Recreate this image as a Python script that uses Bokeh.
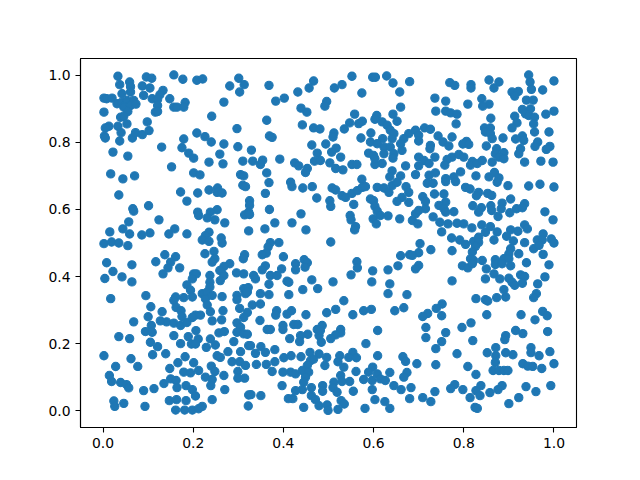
from bokeh.plotting import figure
from bokeh.models import Range1d, FixedTicker, ColumnDataSource
from bokeh.embed import file_html
from bokeh.resources import INLINE

ticks = [0.0, 0.2, 0.4, 0.6, 0.8, 1.0]
tick_labels = {0.0: "0.0", 0.2: "0.2", 0.4: "0.4", 0.6: "0.6", 0.8: "0.8", 1.0: "1.0"}

upper_left = [(.033,.997),(.037,.972),(.059,.980),(.061,.966),(.096,.995),(.108,.991),(.087,.968),(.104,.962),(.157,1.001),(.177,.988),(.208,.985),(.221,.989),(.301,.991),(.313,.972),(.281,.968),(.303,.950),(.002,.932),(.008,.930),(.020,.932),(.042,.945),(.061,.950),(.090,.940),(.133,.955),(.126,.942),(.109,.930),(.121,.928),(.148,.930),(.182,.919),(.268,.920),(.031,.915),(.042,.920),(.053,.925),(.068,.925),(.046,.905),(.061,.910),(.073,.914),(.055,.892),(.002,.890),(.121,.910),(.116,.890),(.121,.892),(.157,.905),(.164,.905),(.179,.905),(.241,.878),(.039,.875),(.046,.878),(.098,.861),(.053,.855),(.013,.848),(.005,.843),(.033,.848),(.040,.829),(.297,.841),(.003,.819),(.005,.813),(.037,.804),(.065,.813),(.072,.829),(.087,.823),(.102,.835),(.179,.810),(.208,.828),(.226,.817),(.240,.801),(.268,.795),(.299,.787),(.130,.786),(.175,.784),(.190,.768),(.201,.753),(.022,.771),(.055,.759),(.259,.765),(.235,.741),(.266,.736),(.310,.744),(.152,.727),(.017,.706),(.044,.691),(.070,.700),(.201,.709),(.215,.703),(.305,.704),(.312,.700)]

upper_mid = [(.368,.970),(.467,.983),(.457,.962),(.432,.950),(.402,.932),(.383,.923),(.513,.962),(.530,.972),(.552,.997),(.598,.994),(.604,.994),(.629,.998),(.643,.977),(.680,.981),(.658,.950),(.574,.947),(.496,.922),(.492,.908),(.439,.902),(.452,.890),(.660,.905),(.558,.884),(.607,.880),(.643,.884),(.363,.866),(.603,.869),(.652,.863),(.547,.858),(.575,.863),(.567,.856),(.619,.861),(.630,.851),(.442,.852),(.467,.843),(.481,.840),(.535,.840),(.512,.828),(.510,.816),(.594,.828),(.637,.836),(.645,.826),(.369,.819),(.375,.815),(.572,.813),(.678,.826),(.667,.811),(.620,.811),(.593,.801),(.608,.796),(.641,.811),(.660,.796),(.463,.792),(.494,.795),(.329,.777),(.517,.783),(.507,.771),(.475,.768),(.527,.756),(.589,.768),(.623,.786),(.637,.786),(.663,.776),(.623,.766),(.645,.766),(.600,.761),(.643,.753),(.354,.747),(.332,.744),(.392,.750),(.469,.744),(.482,.746),(.349,.734),(.425,.739),(.434,.730),(.453,.722),(.449,.710),(.503,.739),(.516,.722),(.532,.718),(.552,.734),(.563,.734),(.603,.734),(.619,.737),(.603,.751),(.671,.730),(.641,.715),(.363,.709),(.636,.697),(.660,.700),(.574,.690)]

upper_right = [(.769,.978),(.780,.970),(.816,.972),(.816,.962),(.856,.986),(.878,.980),(.867,.962),(.944,1.001),(.947,.980),(.950,.958),(.975,.956),(1.000,.983),(.907,.950),(.921,.952),(.913,.938),(.736,.932),(.760,.923),(.809,.914),(.840,.930),(.856,.914),(.842,.908),(.939,.926),(.954,.926),(.930,.898),(.948,.900),(.937,.885),(.944,.880),(.738,.893),(.760,.893),(.771,.888),(.785,.884),(.982,.884),(1.000,.893),(.957,.875),(.913,.878),(.860,.872),(.783,.855),(.918,.858),(.955,.855),(.907,.843),(.846,.843),(.859,.843),(.848,.831),(.859,.826),(.957,.831),(.989,.831),(.693,.836),(.713,.843),(.726,.839),(.700,.821),(.743,.819),(.774,.816),(.863,.811),(.887,.813),(.930,.819),(.915,.810),(.933,.806),(.700,.804),(.754,.801),(.767,.789),(.806,.803),(.798,.795),(.811,.794),(.726,.791),(.725,.781),(.964,.801),(.958,.788),(.991,.788),(.983,.779),(.850,.789),(.873,.781),(.889,.769),(.870,.766),(.926,.781),(.922,.766),(.736,.756),(.700,.756),(.712,.746),(.723,.737),(.700,.730),(.774,.756),(.789,.764),(.800,.756),(.763,.749),(.758,.732),(.819,.743),(.815,.732),(.830,.737),(.841,.746),(.863,.741),(.878,.756),(.889,.751),(.935,.741),(.971,.744),(.998,.741),(.693,.704),(.723,.702),(.737,.709),(.793,.712),(.827,.700),(.760,.692),(.778,.697),(.856,.697),(.868,.710),(.878,.694)]

middle_left = [(.035,.643),(.172,.652),(.186,.625),(.210,.649),(.235,.658),(.254,.664),(.253,.651),(.264,.649),(.310,.672),(.316,.668),(.066,.602),(.068,.595),(.101,.611),(.210,.592),(.212,.582),(.253,.599),(.238,.592),(.231,.575),(.248,.569),(.270,.560),(.314,.584),(.124,.569),(.057,.563),(.044,.542),(.059,.527),(.015,.533),(.159,.542),(.146,.527),(.104,.530),(.086,.524),(.186,.527),(.235,.532),(.227,.522),(.220,.509),(.235,.505),(.262,.515),(.264,.500),(.002,.498),(.019,.503),(.035,.500),(.055,.492),(.137,.465),(.161,.459),(.117,.444),(.226,.468),(.246,.475),(.248,.453),(.242,.443),(.314,.465),(.311,.453),(.008,.441),(.064,.435),(.150,.443),(.144,.426),(.170,.426),(.022,.415),(.133,.408),(.042,.399),(.004,.394),(.064,.384),(.201,.408),(.207,.408),(.198,.393),(.281,.438),(.268,.430),(.259,.418),(.268,.403),(.260,.388),(.237,.403),(.296,.411),(.312,.408),(.186,.375),(.237,.383),(.237,.369),(.017,.334),(.095,.343),(.161,.339),(.157,.329),(.179,.337),(.194,.359),(.198,.339),(.220,.349),(.231,.354),(.227,.334),(.242,.344),(.264,.340),(.297,.344),(.297,.331),(.312,.364),(.316,.349)]

middle_mid = [(.368,.680),(.360,.648),(.416,.681),(.419,.668),(.443,.664),(.464,.668),(.474,.634),(.508,.664),(.516,.658),(.530,.641),(.538,.636),(.552,.648),(.564,.656),(.575,.666),(.582,.668),(.608,.666),(.623,.664),(.634,.651),(.641,.671),(.652,.681),(.672,.668),(.678,.651),(.663,.636),(.652,.624),(.678,.621),(.503,.626),(.505,.609),(.556,.615),(.593,.631),(.600,.626),(.603,.609),(.608,.595),(.615,.582),(.632,.581),(.599,.572),(.606,.557),(.658,.572),(.325,.626),(.325,.612),(.323,.592),(.325,.585),(.369,.600),(.439,.587),(.381,.560),(.419,.560),(.359,.542),(.450,.539),(.323,.536),(.548,.582),(.550,.569),(.560,.549),(.558,.539),(.505,.503),(.371,.501),(.390,.501),(.366,.488),(.362,.470),(.353,.465),(.400,.459),(.360,.432),(.353,.420),(.396,.423),(.427,.438),(.427,.420),(.446,.450),(.453,.441),(.448,.428),(.563,.444),(.564,.426),(.550,.405),(.598,.417),(.632,.420),(.654,.432),(.660,.462),(.680,.465),(.334,.403),(.338,.393),(.371,.403),(.386,.403),(.368,.377),(.408,.386),(.412,.383),(.463,.390),(.510,.384),(.596,.384),(.636,.378),(.443,.361),(.476,.364),(.322,.367),(.320,.354),(.349,.349),(.368,.346),(.412,.346),(.632,.349),(.674,.346),(.534,.328)]

middle_right = [(.719,.678),(.732,.678),(.760,.683),(.782,.683),(.804,.666),(.814,.661),(.833,.651),(.828,.641),(.853,.648),(.862,.642),(.874,.681),(.898,.671),(.944,.670),(.969,.675),(1.000,.667),(.709,.638),(.715,.624),(.735,.646),(.756,.646),(.760,.622),(.745,.612),(.756,.602),(.760,.592),(.778,.593),(.715,.602),(.693,.587),(.700,.597),(.686,.567),(.698,.557),(.732,.578),(.747,.562),(.765,.557),(.785,.559),(.800,.557),(.818,.545),(.751,.533),(.820,.611),(.839,.605),(.833,.592),(.860,.611),(.862,.597),(.885,.619),(.883,.602),(.876,.579),(.904,.631),(.902,.590),(.917,.602),(.935,.617),(.930,.605),(.980,.593),(.998,.569),(.840,.554),(.859,.549),(.848,.532),(.874,.533),(.904,.539),(.920,.535),(.935,.554),(.941,.542),(.895,.520),(.867,.509),(.910,.506),(.773,.515),(.791,.509),(.804,.496),(.822,.505),(.833,.517),(.833,.502),(.826,.490),(.935,.501),(.976,.527),(.963,.509),(.974,.509),(.994,.512),(1.000,.500),(.955,.483),(.967,.493),(.976,.466),(.703,.498),(.700,.471),(.686,.463),(.727,.480),(.774,.477),(.819,.473),(.904,.483),(.900,.468),(.922,.468),(.815,.453),(.822,.448),(.841,.448),(.870,.450),(.889,.453),(.900,.453),(.870,.436),(.885,.438),(.939,.441),(.989,.435),(.797,.432),(.809,.426),(.819,.438),(.700,.433),(.693,.423),(.850,.423),(.904,.432),(.867,.408),(.848,.393),(.880,.393),(.900,.395),(.926,.405),(.935,.400),(.980,.399),(.774,.387),(.907,.383),(.913,.374),(.930,.380),(.964,.378),(.889,.361),(.961,.349),(.955,.337),(.893,.339),(.873,.337),(.827,.334),(.848,.331),(.853,.327)]

lower_left = [(.106,.310),(.162,.308),(.231,.315),(.303,.305),(.131,.295),(.173,.298),(.238,.295),(.266,.298),(.320,.293),(.100,.280),(.175,.281),(.205,.285),(.216,.285),(.068,.265),(.141,.265),(.127,.268),(.157,.261),(.172,.254),(.186,.263),(.198,.278),(.242,.268),(.263,.271),(.312,.278),(.297,.262),(.305,.249),(.107,.254),(.094,.236),(.109,.234),(.206,.239),(.257,.232),(.269,.236),(.035,.221),(.059,.215),(.157,.224),(.189,.221),(.211,.214),(.238,.214),(.297,.234),(.312,.229),(.105,.204),(.121,.191),(.172,.200),(.196,.199),(.205,.199),(.229,.189),(.249,.196),(.290,.206),(.323,.194),(.002,.164),(.110,.167),(.139,.170),(.253,.164),(.277,.176),(.305,.176),(.062,.155),(.182,.161),(.260,.159),(.028,.132),(.077,.132),(.166,.143),(.201,.143),(.240,.133),(.286,.146),(.303,.146),(.316,.135),(.148,.126),(.179,.115),(.194,.113),(.212,.120),(.248,.117),(.268,.105),(.299,.117),(.014,.105),(.227,.100),(.242,.093),(.299,.097),(.314,.097),(.019,.087),(.039,.084),(.052,.078),(.057,.068),(.135,.081),(.150,.095),(.162,.090),(.164,.069),(.184,.075),(.239,.075),(.090,.060),(.113,.066),(.198,.063),(.205,.044),(.270,.063),(.323,.047),(.024,.029),(.026,.013),(.046,.022),(.093,.013),(.147,.030),(.163,.033),(.184,.030),(.242,.033),(.220,.013),(.161,.002),(.181,.002),(.198,.002),(.212,.006),(.322,.014)]

lower_mid = [(.331,.315),(.349,.318),(.348,.269),(.385,.298),(.383,.285),(.408,.288),(.418,.298),(.450,.286),(.496,.292),(.516,.302),(.554,.286),(.578,.298),(.595,.302),(.647,.298),(.667,.307),(.364,.242),(.371,.242),(.399,.254),(.399,.242),(.423,.257),(.432,.257),(.486,.254),(.475,.242),(.454,.228),(.438,.224),(.436,.206),(.414,.215),(.479,.224),(.484,.204),(.482,.239),(.527,.242),(.527,.232),(.516,.226),(.505,.215),(.609,.239),(.320,.228),(.327,.194),(.350,.191),(.338,.171),(.360,.174),(.381,.182),(.583,.200),(.609,.164),(.459,.174),(.479,.169),(.401,.158),(.417,.164),(.439,.161),(.496,.159),(.525,.164),(.554,.174),(.545,.159),(.562,.158),(.521,.146),(.381,.146),(.340,.138),(.362,.138),(.375,.117),(.460,.149),(.453,.135),(.467,.154),(.492,.135),(.534,.130),(.665,.161),(.671,.147),(.399,.115),(.416,.115),(.427,.110),(.442,.120),(.456,.115),(.449,.100),(.561,.117),(.598,.130),(.589,.115),(.608,.110),(.636,.114),(.674,.114),(.667,.100),(.527,.105),(.578,.093),(.597,.090),(.615,.095),(.626,.090),(.645,.075),(.661,.063),(.683,.069),(.547,.087),(.512,.085),(.530,.087),(.487,.075),(.487,.058),(.510,.069),(.519,.055),(.555,.058),(.597,.063),(.397,.075),(.445,.085),(.462,.069),(.442,.063),(.427,.060),(.328,.048),(.350,.045),(.411,.036),(.421,.036),(.462,.045),(.471,.033),(.528,.030),(.535,.020),(.603,.033),(.625,.027),(.680,.036),(.479,.015),(.497,.017),(.499,.001),(.445,.010),(.521,.004),(.581,.007),(.636,.007)]

lower_right = [(.752,.318),(.739,.305),(.720,.290),(.709,.281),(.751,.283),(.851,.286),(.927,.286),(.975,.296),(.985,.283),(.958,.271),(.716,.248),(.796,.248),(.816,.262),(.760,.233),(.915,.239),(.931,.230),(.986,.236),(.893,.224),(.891,.212),(.716,.218),(.820,.209),(.751,.206),(.738,.185),(.871,.188),(.949,.188),(.949,.173),(.785,.170),(.852,.173),(.871,.164),(.893,.173),(.909,.167),(.967,.164),(.991,.176),(.696,.140),(.738,.137),(.809,.132),(.870,.144),(.931,.140),(.942,.133),(.953,.132),(.973,.126),(1.000,.140),(.865,.120),(.878,.120),(.889,.120),(.898,.120),(.827,.108),(.780,.078),(.771,.066),(.798,.063),(.838,.075),(.827,.060),(.885,.075),(.876,.063),(.858,.054),(.938,.072),(.960,.057),(.993,.075),(.736,.057),(.814,.039),(.836,.045),(.709,.039),(.922,.039),(.727,.027),(.900,.021),(.825,.010),(.830,.007)]

regions = [upper_left, upper_mid, upper_right, middle_left, middle_mid, middle_right, lower_left, lower_mid, lower_right]
xs = [pt[0] for region in regions for pt in region]
ys = [pt[1] for region in regions for pt in region]

p = figure(width=640, height=480, output_backend="svg", toolbar_location=None,
           x_range=Range1d(-0.05, 1.05), y_range=Range1d(-0.05, 1.05),
           min_border_left=80, min_border_right=64, min_border_top=58, min_border_bottom=53)
p.background_fill_color = "white"
p.border_fill_color = "white"
p.grid.visible = False
p.outline_line_color = "black"
p.outline_line_width = 1.1

src = ColumnDataSource(dict(x=xs, y=ys))
p.scatter("x", "y", source=src, size=8.33, line_width=1.04, color="#1f77b4", marker="circle")

for ax in (p.xaxis[0], p.yaxis[0]):
    ax.ticker = FixedTicker(ticks=ticks)
    ax.major_label_overrides = tick_labels
    ax.minor_tick_line_color = None
    ax.major_tick_in = 0
    ax.major_tick_out = 5
    ax.major_tick_line_width = 1.1
    ax.major_tick_line_color = "black"
    ax.axis_line_color = "black"
    ax.axis_line_width = 1.1
    ax.major_label_text_font = "DejaVu Sans"
    ax.major_label_text_font_size = "13.9px"
    ax.major_label_text_color = "black"
    ax.major_label_standoff = 5

open("out.html", "w").write(file_html(p, INLINE))
